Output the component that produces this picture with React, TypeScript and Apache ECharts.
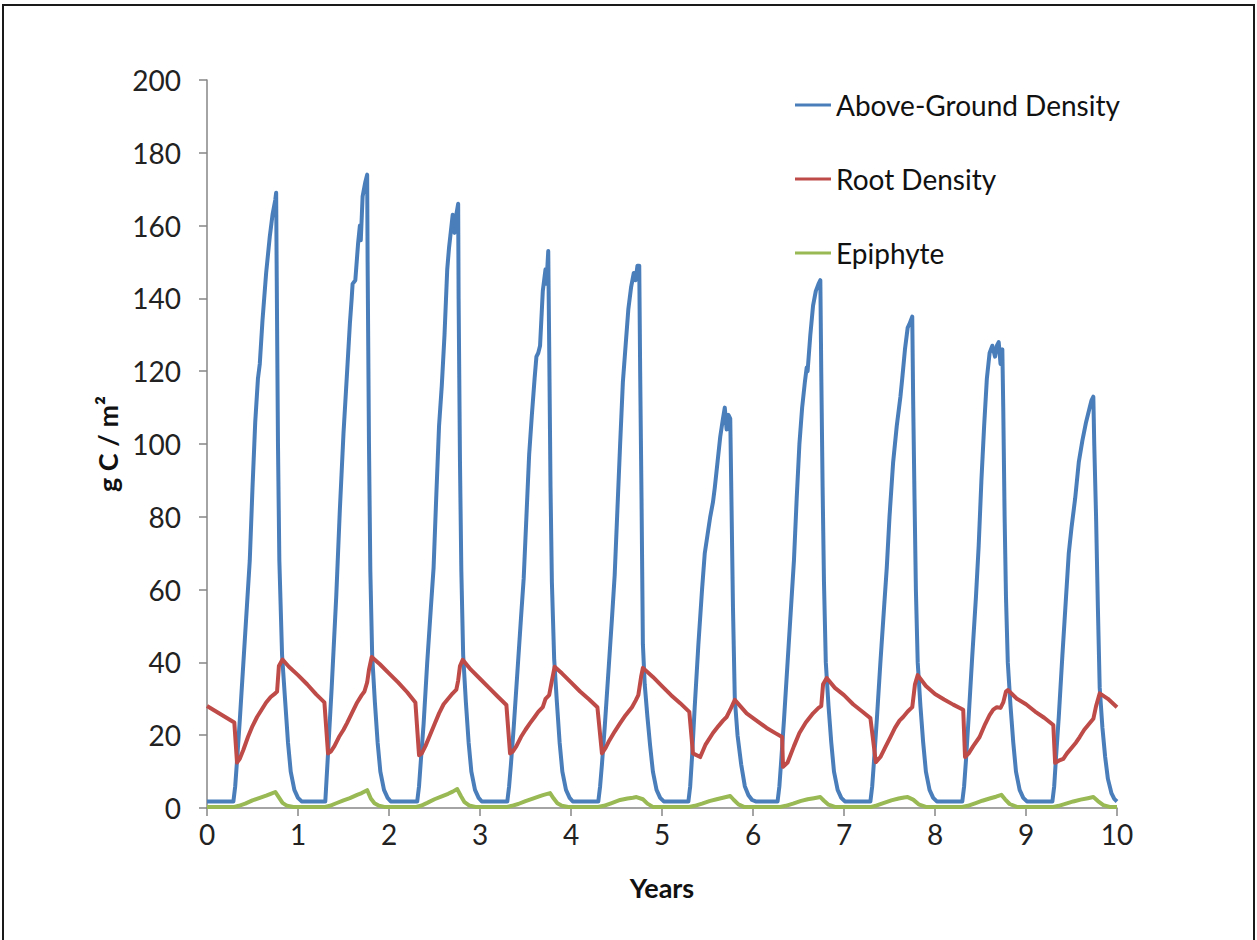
import React, { useEffect, useRef } from "react";
import * as echarts from "echarts";

const seriesNames = ["Above-Ground Density", "Root Density", "Epiphyte"];
const xTicks = [0, 1, 2, 3, 4, 5, 6, 7, 8, 9, 10];
const yTicks = [0, 20, 40, 60, 80, 100, 120, 140, 160, 180, 200];

const aboveGround: [number, number][] = [
  [0, 1.8], [0.29, 1.8],
  [0.31, 6], [0.33, 13], [0.36, 24], [0.4, 40], [0.44, 56], [0.47, 68], [0.5, 88], [0.53, 106], [0.56, 118], [0.58, 122], [0.61, 134], [0.65, 147], [0.69, 157], [0.72, 163], [0.75, 167], [0.76, 169],
  [0.765, 150], [0.78, 100], [0.795, 68], [0.825, 42], [0.86, 29], [0.89, 18], [0.92, 10], [0.96, 5], [1.0, 2.8], [1.04, 1.8], [1.3, 1.8],
  [1.33, 15], [1.37, 33], [1.42, 58], [1.46, 82], [1.5, 103], [1.54, 120], [1.57, 133], [1.59, 140], [1.6, 144], [1.63, 145], [1.66, 155], [1.68, 160], [1.69, 156], [1.71, 168], [1.74, 172], [1.76, 174],
  [1.765, 150], [1.78, 100], [1.795, 65], [1.815, 42], [1.845, 29], [1.875, 18], [1.905, 10], [1.945, 5], [1.985, 2.8], [2.02, 1.8], [2.31, 1.8],
  [2.33, 6], [2.35, 13], [2.38, 23], [2.42, 40], [2.46, 55], [2.49, 66], [2.52, 86], [2.55, 105], [2.58, 116], [2.61, 130], [2.64, 148], [2.66, 154], [2.7, 163], [2.72, 158], [2.74, 163], [2.76, 166],
  [2.765, 140], [2.78, 95], [2.795, 65], [2.815, 42], [2.845, 29], [2.875, 18], [2.905, 10], [2.945, 5], [2.985, 2.8], [3.02, 1.8], [3.3, 1.8],
  [3.32, 6], [3.34, 12], [3.37, 22], [3.41, 37], [3.45, 52], [3.48, 63], [3.51, 80], [3.54, 97], [3.57, 108], [3.6, 118], [3.62, 124], [3.64, 125], [3.66, 127], [3.69, 142], [3.72, 148], [3.73, 144], [3.75, 153],
  [3.76, 128], [3.775, 88], [3.79, 62], [3.815, 41], [3.845, 29], [3.875, 18], [3.905, 10], [3.945, 5], [3.985, 2.8], [4.02, 1.8], [4.3, 1.8],
  [4.32, 6], [4.34, 12], [4.37, 22], [4.41, 37], [4.45, 52], [4.48, 64], [4.51, 82], [4.54, 100], [4.57, 117], [4.6, 127], [4.63, 137], [4.66, 143], [4.69, 147], [4.71, 145], [4.73, 149], [4.75, 149],
  [4.76, 120], [4.775, 85], [4.79, 45], [4.81, 34], [4.84, 25], [4.87, 17], [4.9, 10], [4.94, 5], [4.98, 2.8], [5.02, 1.8], [5.29, 1.8],
  [5.31, 6], [5.33, 14], [5.36, 28], [5.4, 45], [5.44, 60], [5.47, 70], [5.5, 75], [5.53, 80], [5.56, 84], [5.58, 88], [5.61, 95], [5.64, 102], [5.67, 107], [5.69, 110], [5.71, 104], [5.73, 108], [5.75, 107],
  [5.76, 90], [5.78, 55], [5.8, 30], [5.83, 20], [5.87, 12], [5.91, 6], [5.95, 3.5], [5.99, 2.2], [6.03, 1.8], [6.27, 1.8],
  [6.29, 6], [6.31, 13], [6.34, 24], [6.38, 40], [6.42, 56], [6.45, 68], [6.48, 85], [6.51, 100], [6.54, 110], [6.57, 117], [6.59, 121], [6.6, 120], [6.63, 130], [6.66, 138], [6.69, 142], [6.72, 144], [6.74, 145],
  [6.75, 120], [6.765, 88], [6.78, 62], [6.8, 40], [6.83, 28], [6.86, 18], [6.89, 10], [6.93, 5], [6.97, 2.8], [7.01, 1.8], [7.29, 1.8],
  [7.31, 6], [7.33, 13], [7.36, 24], [7.4, 40], [7.44, 55], [7.47, 66], [7.5, 80], [7.54, 95], [7.58, 105], [7.62, 113], [7.64, 118], [7.67, 126], [7.7, 132], [7.72, 133], [7.75, 135],
  [7.76, 112], [7.775, 85], [7.79, 60], [7.81, 40], [7.84, 28], [7.87, 18], [7.9, 10], [7.94, 5], [7.98, 2.8], [8.02, 1.8], [8.3, 1.8],
  [8.32, 6], [8.34, 13], [8.37, 25], [8.41, 42], [8.45, 58], [8.48, 72], [8.51, 90], [8.54, 105], [8.57, 118], [8.6, 125], [8.63, 127], [8.66, 124], [8.68, 127], [8.7, 128], [8.72, 122], [8.74, 126],
  [8.75, 110], [8.765, 80], [8.78, 58], [8.8, 40], [8.83, 28], [8.86, 18], [8.89, 10], [8.93, 5], [8.97, 2.8], [9.01, 1.8], [9.29, 1.8],
  [9.31, 6], [9.33, 14], [9.36, 25], [9.4, 42], [9.44, 58], [9.47, 70], [9.5, 77], [9.54, 85], [9.58, 95], [9.62, 101], [9.66, 106], [9.7, 110], [9.72, 112], [9.74, 113],
  [9.75, 100], [9.77, 80], [9.79, 55], [9.81, 33], [9.84, 22], [9.87, 14], [9.9, 8], [9.94, 4], [9.97, 2.5], [10, 1.8],
];

const rootDensity: [number, number][] = [
  [0, 28], [0.1, 26.5], [0.2, 25], [0.3, 23.5],
  [0.33, 12.5], [0.36, 13.5], [0.4, 16], [0.45, 19.5], [0.5, 22.5], [0.55, 25], [0.6, 27], [0.65, 29], [0.7, 30.5], [0.75, 31.5], [0.77, 32], [0.79, 39], [0.83, 40.8],
  [0.9, 38.8], [1.0, 36.5], [1.1, 34], [1.2, 31.2], [1.29, 29],
  [1.33, 15], [1.36, 15.5], [1.4, 17], [1.45, 19.5], [1.5, 21.5], [1.54, 23.4], [1.6, 26.5], [1.65, 29], [1.7, 31], [1.73, 32], [1.76, 34.5], [1.78, 38], [1.81, 41.5],
  [1.9, 39.5], [2.0, 37], [2.1, 34.5], [2.2, 31.8], [2.29, 29],
  [2.33, 14.5], [2.36, 15], [2.4, 17], [2.45, 20], [2.5, 23], [2.55, 26], [2.6, 28.5], [2.65, 30], [2.7, 31.5], [2.74, 32.5], [2.76, 35], [2.78, 39], [2.81, 40.7],
  [2.9, 38], [3.0, 35.5], [3.1, 33], [3.2, 30.5], [3.29, 28.3],
  [3.33, 15], [3.36, 15.5], [3.4, 17], [3.45, 19.5], [3.5, 21.5], [3.55, 23.3], [3.6, 25], [3.64, 26.4], [3.69, 27.7], [3.72, 30], [3.76, 31], [3.79, 35], [3.82, 38.8],
  [3.9, 37], [4.0, 34.5], [4.1, 32], [4.2, 29.8], [4.29, 27.7],
  [4.34, 15], [4.38, 16.5], [4.42, 18.5], [4.48, 21], [4.54, 23.3], [4.6, 25.5], [4.67, 27.7], [4.71, 29.5], [4.74, 31], [4.77, 36], [4.79, 38.5],
  [4.9, 36], [5.0, 33.5], [5.1, 31], [5.2, 28.8], [5.3, 26.4],
  [5.34, 15], [5.42, 14], [5.48, 17.5], [5.56, 20.6], [5.62, 22.5], [5.67, 24], [5.71, 25], [5.75, 27], [5.8, 29.7],
  [5.93, 26], [6.05, 23.8], [6.15, 22], [6.25, 20.5], [6.32, 19.5],
  [6.33, 11.3], [6.38, 12.5], [6.45, 17], [6.51, 20.6], [6.58, 23.5], [6.66, 26], [6.72, 27.5], [6.75, 28], [6.77, 34], [6.81, 35.7],
  [6.9, 33], [7.0, 31], [7.1, 28.5], [7.2, 26.5], [7.29, 24.7],
  [7.35, 12.6], [7.4, 14], [7.45, 16.5], [7.51, 19.5], [7.56, 22], [7.61, 24], [7.65, 25], [7.7, 26.5], [7.75, 27.7], [7.78, 34], [7.81, 36.5],
  [7.9, 33.5], [8.0, 31.3], [8.1, 29.8], [8.2, 28.4], [8.31, 27],
  [8.33, 14], [8.37, 15], [8.42, 17], [8.49, 19.5], [8.55, 23], [8.6, 25.5], [8.64, 27], [8.68, 27.7], [8.72, 27.5], [8.75, 29], [8.78, 32], [8.8, 32.4],
  [8.9, 30], [9.0, 28.5], [9.1, 26.5], [9.2, 24.8], [9.3, 22.8],
  [9.32, 12.4], [9.36, 13], [9.41, 13.5], [9.45, 15], [9.5, 16.5], [9.55, 18], [9.59, 19.5], [9.64, 21.5], [9.69, 23], [9.74, 24.5], [9.77, 28], [9.81, 31.5],
  [9.9, 30], [10, 27.7],
];

const epiphyte: [number, number][] = [
  [0, 0.3], [0.3, 0.3], [0.35, 0.6], [0.42, 1.2], [0.5, 2.1], [0.58, 2.8], [0.65, 3.4], [0.7, 3.9], [0.75, 4.4], [0.79, 2.9], [0.83, 1.4], [0.88, 0.6], [0.95, 0.3],
  [1.3, 0.3], [1.35, 0.6], [1.42, 1.3], [1.5, 2.1], [1.57, 2.7], [1.65, 3.6], [1.7, 4.1], [1.76, 4.9], [1.8, 2.6], [1.84, 1.3], [1.89, 0.6], [1.95, 0.3],
  [2.3, 0.3], [2.35, 0.6], [2.42, 1.4], [2.5, 2.4], [2.58, 3.2], [2.65, 3.9], [2.7, 4.5], [2.75, 5.2], [2.79, 3.3], [2.83, 1.6], [2.88, 0.7], [2.95, 0.3],
  [3.3, 0.3], [3.35, 0.6], [3.42, 1.1], [3.5, 1.9], [3.58, 2.6], [3.65, 3.2], [3.7, 3.6], [3.77, 4.1], [3.81, 2.6], [3.85, 1.3], [3.9, 0.6], [3.97, 0.3],
  [4.3, 0.3], [4.36, 0.6], [4.44, 1.3], [4.54, 2.2], [4.62, 2.6], [4.68, 2.8], [4.72, 3.0], [4.79, 2.4], [4.84, 1.2], [4.9, 0.3],
  [5.3, 0.3], [5.36, 0.6], [5.44, 1.2], [5.52, 1.9], [5.6, 2.4], [5.67, 2.8], [5.75, 3.3], [5.79, 2.2], [5.84, 1.0], [5.9, 0.3],
  [6.3, 0.3], [6.36, 0.6], [6.44, 1.2], [6.52, 1.9], [6.6, 2.4], [6.67, 2.7], [6.74, 3.0], [6.78, 2.0], [6.83, 0.9], [6.9, 0.3],
  [7.3, 0.3], [7.36, 0.7], [7.44, 1.4], [7.52, 2.1], [7.6, 2.6], [7.66, 2.9], [7.7, 3.0], [7.76, 2.3], [7.82, 1.0], [7.9, 0.3],
  [8.3, 0.3], [8.36, 0.6], [8.44, 1.3], [8.52, 2.0], [8.6, 2.6], [8.67, 3.1], [8.73, 3.6], [8.77, 2.4], [8.82, 1.1], [8.9, 0.3],
  [9.3, 0.3], [9.36, 0.6], [9.44, 1.2], [9.52, 1.8], [9.6, 2.3], [9.68, 2.7], [9.74, 3.0], [9.79, 1.9], [9.85, 0.8], [9.92, 0.3], [10, 0.3],
];

const COLORS = ["#4a7ebb", "#be4b48", "#98b954"];
const FONT = "Lato, 'Open Sans', sans-serif";

export default function App() {
  const ref = useRef<HTMLDivElement>(null);
  useEffect(() => {
    if (!ref.current) return;
    const chart = echarts.init(ref.current, undefined, { renderer: "svg" });
    const axisCommon = {
      axisLine: { show: true, lineStyle: { color: "#868686", width: 1.5 } },
      axisTick: { show: true, inside: false, length: 8, lineStyle: { color: "#868686", width: 1.5 } },
      splitLine: { show: false },
    };
    chart.setOption({
      animation: false,
      backgroundColor: "#ffffff",
      textStyle: { fontFamily: FONT },
      graphic: [
        {
          type: "rect",
          shape: { x: 3, y: 5, width: 1251, height: 1000 },
          style: { fill: "none", stroke: "#1a1a1a", lineWidth: 2 },
          silent: true,
        },
      ],
      grid: { left: 207, right: 140, top: 80, bottom: 132, containLabel: false },
      legend: {
        orient: "vertical",
        left: 790,
        top: 86,
        icon: "rect",
        itemWidth: 36,
        itemHeight: 3,
        itemGap: 46,
        data: seriesNames,
        textStyle: { fontFamily: FONT, fontSize: 28, color: "#111" },
      },
      xAxis: {
        type: "value",
        min: xTicks[0],
        max: xTicks[xTicks.length - 1],
        interval: 1,
        name: "Years",
        nameLocation: "middle",
        nameGap: 66,
        nameTextStyle: { fontFamily: FONT, fontSize: 27, fontWeight: "bold", color: "#111" },
        axisLabel: { fontFamily: FONT, fontSize: 28, color: "#222", margin: 12 },
        ...axisCommon,
      },
      yAxis: {
        type: "value",
        min: yTicks[0],
        max: yTicks[yTicks.length - 1],
        interval: 20,
        name: "g C / m²",
        nameLocation: "middle",
        nameRotate: 90,
        nameGap: 80,
        nameTextStyle: { fontFamily: FONT, fontSize: 27, fontWeight: "bold", color: "#111" },
        axisLabel: { fontFamily: FONT, fontSize: 28, color: "#222", margin: 26 },
        ...axisCommon,
      },
      series: [
        { name: seriesNames[0], data: aboveGround, color: COLORS[0] },
        { name: seriesNames[1], data: rootDensity, color: COLORS[1] },
        { name: seriesNames[2], data: epiphyte, color: COLORS[2] },
      ].map((s) => ({
        type: "line",
        name: s.name,
        data: s.data,
        symbol: "none",
        showSymbol: false,
        smooth: false,
        itemStyle: { color: s.color },
        lineStyle: { color: s.color, width: 4, join: "round" },
      })),
    });
    return () => chart.dispose();
  }, []);
  return (
    <div
      ref={ref}
      style={{ position: "absolute", left: 0, top: 0, width: 1257, height: 940 }}
    />
  );
}
